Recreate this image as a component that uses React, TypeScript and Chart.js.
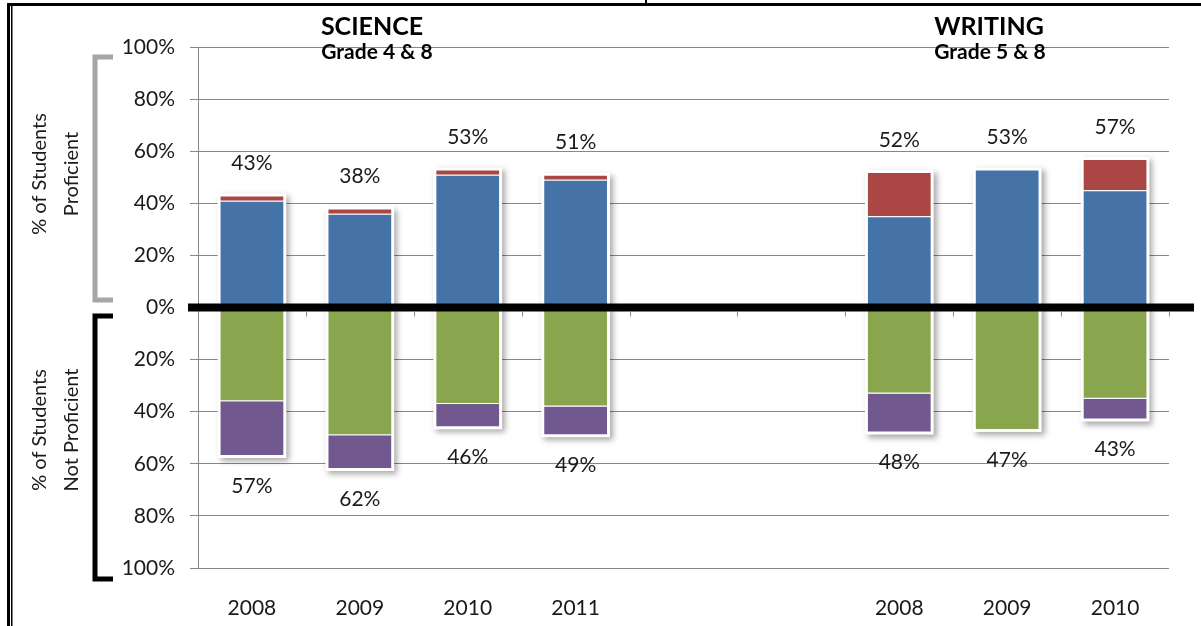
import React, { useEffect, useRef } from 'react';
import { Chart, registerables } from 'chart.js';

Chart.register(...registerables);

const categories = ['2008', '2009', '2010', '2011', '', '', '2008', '2009', '2010'];
const proficient = [41, 36, 51, 49, null, null, 35, 53, 45];
const advanced = [2, 2, 2, 2, null, null, 17, null, 12];
const partiallyProficient = [-36, -49, -37, -38, null, null, -33, -47, -35];
const unsatisfactory = [-21, -13, -9, -11, null, null, -15, null, -8];
const groupTitles = ['SCIENCE', 'WRITING'];
const groupSubtitles = ['Grade 4 & 8', 'Grade 5 & 8'];
const axisTitleTop = ['% of Students', 'Proficient'];
const axisTitleBottom = ['% of Students', 'Not Proficient'];

const FONT = 'Lato, "Open Sans", sans-serif';
const BAR_PCT = 0.6;

const sum = (a: (number | null)[], b: (number | null)[], i: number) => (a[i] ?? 0) + (b[i] ?? 0);

const decor = {
  id: 'decor',
  beforeDatasetsDraw(chart: any) {
    const ctx = chart.ctx;
    const xs = chart.scales.x;
    const ys = chart.scales.y;
    const zero = ys.getPixelForValue(0);
    const w = (xs.width / categories.length) * BAR_PCT;
    ctx.save();
    ctx.fillStyle = '#ffffff';
    ctx.shadowColor = 'rgba(0,0,0,0.35)';
    ctx.shadowBlur = 6;
    ctx.shadowOffsetX = 3;
    ctx.shadowOffsetY = 3;
    categories.forEach((_, i) => {
      const cx = xs.getPixelForValue(i);
      const pos = sum(proficient, advanced, i);
      const neg = sum(partiallyProficient, unsatisfactory, i);
      if (pos > 0) {
        const top = ys.getPixelForValue(pos);
        ctx.fillRect(cx - w / 2 - 2, top - 2, w + 4, zero - top + 2);
      }
      if (neg < 0) {
        const bot = ys.getPixelForValue(neg);
        ctx.fillRect(cx - w / 2 - 2, zero, w + 4, bot - zero + 2);
      }
    });
    ctx.restore();
  },
  afterDatasetsDraw(chart: any) {
    const ctx = chart.ctx;
    const xs = chart.scales.x;
    const ys = chart.scales.y;
    const ca = chart.chartArea;
    const zero = ys.getPixelForValue(0);
    ctx.save();
    ctx.fillStyle = '#000';
    ctx.fillRect(ca.left - 10, zero - 4, ca.right - ca.left + 35, 8);
    ctx.strokeStyle = '#888';
    ctx.lineWidth = 1;
    const cw = xs.width / categories.length;
    for (let i = 1; i <= categories.length; i++) {
      const x = Math.round(ca.left + cw * i) + 0.5;
      ctx.beginPath();
      ctx.moveTo(x, zero + 4);
      ctx.lineTo(x, zero + 9);
      ctx.stroke();
    }
    ctx.fillStyle = '#1a1a1a';
    ctx.font = `21px ${FONT}`;
    ctx.textAlign = 'center';
    ctx.textBaseline = 'middle';
    categories.forEach((_, i) => {
      const cx = xs.getPixelForValue(i);
      const pos = sum(proficient, advanced, i);
      const neg = sum(partiallyProficient, unsatisfactory, i);
      if (pos > 0) ctx.fillText(`${pos}%`, cx, ys.getPixelForValue(pos) - 32);
      if (neg < 0) ctx.fillText(`${Math.abs(neg)}%`, cx, ys.getPixelForValue(neg) + 30);
    });
    ctx.restore();
  },
  afterDraw(chart: any) {
    const ctx = chart.ctx;
    ctx.save();
    ctx.fillStyle = '#000';
    ctx.textAlign = 'center';
    ctx.textBaseline = 'middle';
    ctx.font = `bold 25px ${FONT}`;
    ctx.fillText(groupTitles[0], 372, 27);
    ctx.fillText(groupTitles[1], 989, 27);
    ctx.font = `bold 21px ${FONT}`;
    ctx.fillText(groupSubtitles[0], 377, 52);
    ctx.fillText(groupSubtitles[1], 990, 52);
    ctx.font = `20px ${FONT}`;
    ctx.fillStyle = '#1a1a1a';
    const vtext = (lines: string[], cy: number) => {
      ctx.save();
      ctx.translate(56, cy);
      ctx.rotate(-Math.PI / 2);
      ctx.fillText(lines[0], 0, -16);
      ctx.fillText(lines[1], 0, 16);
      ctx.restore();
    };
    vtext(axisTitleTop, 174);
    vtext(axisTitleBottom, 430);
    ctx.lineWidth = 5;
    ctx.lineJoin = 'miter';
    ctx.strokeStyle = '#a6a6a6';
    ctx.beginPath();
    ctx.moveTo(113, 57);
    ctx.lineTo(95, 57);
    ctx.lineTo(95, 300);
    ctx.lineTo(113, 300);
    ctx.stroke();
    ctx.strokeStyle = '#000';
    ctx.beginPath();
    ctx.moveTo(113, 316);
    ctx.lineTo(95, 316);
    ctx.lineTo(95, 579);
    ctx.lineTo(113, 579);
    ctx.stroke();
    ctx.fillStyle = '#000';
    ctx.fillRect(7, 3, 1201, 3);
    ctx.fillRect(7, 3, 3, 626);
    ctx.fillRect(11, 3, 1.5, 626);
    ctx.fillRect(645, 0, 2, 5);
    ctx.restore();
  },
};

export default function App() {
  const ref = useRef<HTMLCanvasElement | null>(null);
  useEffect(() => {
    if (!ref.current) return;
    const chart = new Chart(ref.current, {
      type: 'bar',
      data: {
        labels: categories,
        datasets: [
          { label: 'Proficient', data: proficient, backgroundColor: '#4572A7', borderColor: '#ffffff', borderWidth: 1, stack: 's' },
          { label: 'Advanced', data: advanced, backgroundColor: '#AA4643', borderColor: '#ffffff', borderWidth: 1, stack: 's' },
          { label: 'Partially Proficient', data: partiallyProficient, backgroundColor: '#89A54E', borderColor: '#ffffff', borderWidth: 1, stack: 's' },
          { label: 'Unsatisfactory', data: unsatisfactory, backgroundColor: '#71588F', borderColor: '#ffffff', borderWidth: 1, stack: 's' },
        ],
      },
      options: {
        responsive: false,
        animation: false,
        devicePixelRatio: 1,
        layout: { padding: { top: 47, right: 32, bottom: 0, left: 0 } },
        datasets: { bar: { barPercentage: BAR_PCT, categoryPercentage: 1 } },
        plugins: { legend: { display: false }, tooltip: { enabled: false }, title: { display: false } },
        scales: {
          x: {
            stacked: true,
            afterFit: (s: any) => { s.height = 58; },
            grid: { display: false, drawTicks: false },
            border: { display: false },
            ticks: { padding: 28, color: '#1a1a1a', font: { family: FONT, size: 21 }, maxRotation: 0, autoSkip: false },
          },
          y: {
            stacked: true,
            min: -100,
            max: 100,
            afterFit: (s: any) => { s.width = 198; },
            grid: { color: '#878787', lineWidth: 1, tickLength: 8, drawTicks: true },
            border: { display: true, color: '#878787', width: 1 },
            ticks: {
              stepSize: 20,
              padding: 15,
              color: '#1a1a1a',
              font: { family: FONT, size: 21 },
              callback: (v: any) => `${Math.abs(Number(v))}%`,
            },
          },
        },
      },
      plugins: [decor],
    });
    return () => chart.destroy();
  }, []);
  return (
    <div style={{ position: 'absolute', left: 0, top: 0, width: 1201, height: 626, background: '#fff' }}>
      <canvas ref={ref} width={1201} height={626} />
    </div>
  );
}
